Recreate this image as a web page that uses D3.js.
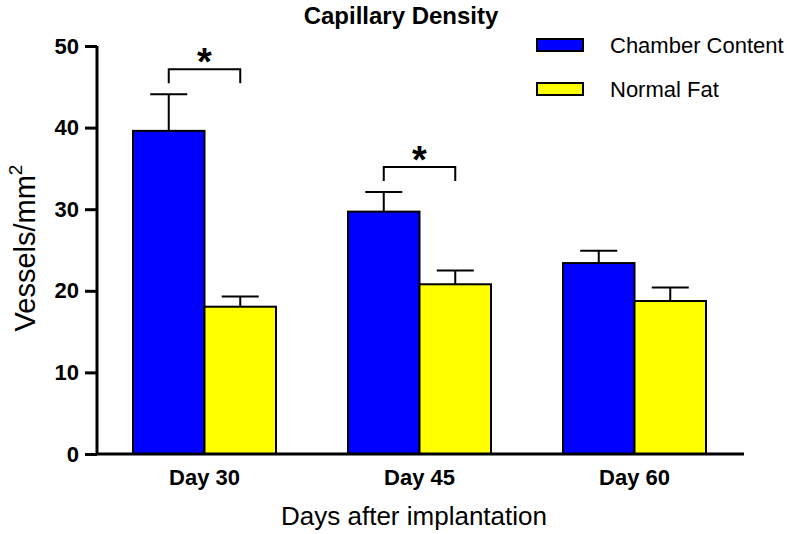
<!DOCTYPE html>
<html><head><meta charset="utf-8">
<script src="https://cdn.jsdelivr.net/npm/d3@7"></script>
<style>body{margin:0;background:#fff;} text{font-family:Arial,"Liberation Sans",sans-serif;}</style>
</head><body>
<svg id="c" width="792" height="534"></svg>
<script>
const categories = ["Day 30", "Day 45", "Day 60"];
const seriesNames = ["Chamber Content", "Normal Fat"];
const chamberMean = [39.6, 29.7, 23.4];
const chamberErr = [4.5, 2.4, 1.5];
const fatMean = [18.05, 20.8, 18.75];
const fatErr = [1.25, 1.7, 1.65];
const yTicks = [0, 10, 20, 30, 40, 50];
const significant = ["Day 30", "Day 45"];
const colors = ["#0000ff", "#ffff00"];

const svg = d3.select("#c");
const mLeft = 97, mRight = 742, mTop = 46, mBottom = 454;
const x = d3.scaleBand().domain(categories).range([mLeft, mRight]).paddingInner(72/215).paddingOuter(36/215);
const x1 = d3.scaleBand().domain(seriesNames).range([0, x.bandwidth()]);
const y = d3.scaleLinear().domain([0, 50]).range([mBottom, mTop]);

const data = categories.map((c, i) => ({cat: c, vals: [
  {s: seriesNames[0], m: chamberMean[i], e: chamberErr[i]},
  {s: seriesNames[1], m: fatMean[i], e: fatErr[i]}]}));

const g = svg.append("g");
const grp = g.selectAll("g.grp").data(data).join("g").attr("transform", d => `translate(${x(d.cat)},0)`);
grp.selectAll("path.err").data(d => d.vals).join("path")
  .attr("d", (d) => {
    const cx = x1(d.s) + x1.bandwidth()/2;
    const yt = y(d.m + d.e);
    return `M${cx},${y(d.m)}V${yt}M${cx-18.5},${yt}H${cx+18.5}`;
  }).attr("stroke", "#000").attr("stroke-width", 2).attr("fill", "none");
grp.selectAll("rect").data(d => d.vals).join("rect")
  .attr("x", d => x1(d.s)).attr("width", x1.bandwidth())
  .attr("y", d => y(d.m)).attr("height", d => y(0) - y(d.m))
  .attr("fill", (d, i) => colors[i]).attr("stroke", "#000").attr("stroke-width", 2);

significant.forEach(c => {
  const i = categories.indexOf(c);
  const x0 = x(c) + x1(seriesNames[0]) + x1.bandwidth()/2;
  const xB = x(c) + x1(seriesNames[1]) + x1.bandwidth()/2;
  const hi = Math.max(chamberMean[i] + chamberErr[i], fatMean[i] + fatErr[i]);
  const yb = y(hi) - 25, yd = yb + 14;
  g.append("path").attr("d", `M${x0},${yd}V${yb}H${xB}V${yd}`).attr("stroke", "#000").attr("stroke-width", 2).attr("fill", "none");
  g.append("text").attr("x", (x0 + xB)/2).attr("y", yb + 6).attr("text-anchor", "middle")
    .attr("font-size", 38).attr("font-weight", "bold").text("*");
});

const yAxis = d3.axisLeft(y).tickValues(yTicks).tickSize(12).tickPadding(6);
const ya = svg.append("g").attr("transform", `translate(${mLeft},0)`).call(yAxis);
ya.select(".domain").attr("stroke-width", 3).attr("d", `M0,${mTop}V${mBottom}`);
ya.selectAll(".tick line").attr("stroke-width", 3);
ya.selectAll(".tick text").attr("font-size", 22).attr("font-weight", "bold").attr("fill", "#000").attr("font-family", "Arial, Liberation Sans, sans-serif");

const xAxis = d3.axisBottom(x).tickSize(0).tickPadding(15);
const xa = svg.append("g").attr("transform", `translate(0,${mBottom})`).call(xAxis);
xa.select(".domain").attr("stroke-width", 3).attr("d", `M${mLeft},0H${mRight+2}`);
xa.selectAll(".tick text").attr("font-size", 22).attr("font-weight", "bold").attr("fill", "#000").attr("font-family", "Arial, Liberation Sans, sans-serif");

svg.append("text").attr("x", 401).attr("y", 24).attr("text-anchor", "middle").attr("font-size", 24).attr("font-weight", "bold").text("Capillary Density");
svg.append("text").attr("x", 414).attr("y", 525).attr("text-anchor", "middle").attr("font-size", 26).text("Days after implantation");
const ytl = svg.append("text").attr("transform", "translate(35,248) rotate(-90)").attr("text-anchor", "middle").attr("font-size", 29);
ytl.append("tspan").text("Vessels/mm");
ytl.append("tspan").attr("font-size", 19).attr("dy", -13).text("2");

const lg = svg.append("g");
seriesNames.forEach((s, i) => {
  const ly = 39 + i * 44;
  lg.append("rect").attr("x", 537).attr("y", ly).attr("width", 46).attr("height", 12).attr("fill", colors[i]).attr("stroke", "#000").attr("stroke-width", 2);
  lg.append("text").attr("x", 610).attr("y", ly + 14).attr("font-size", 22).text(s);
});
</script>
</body></html>
